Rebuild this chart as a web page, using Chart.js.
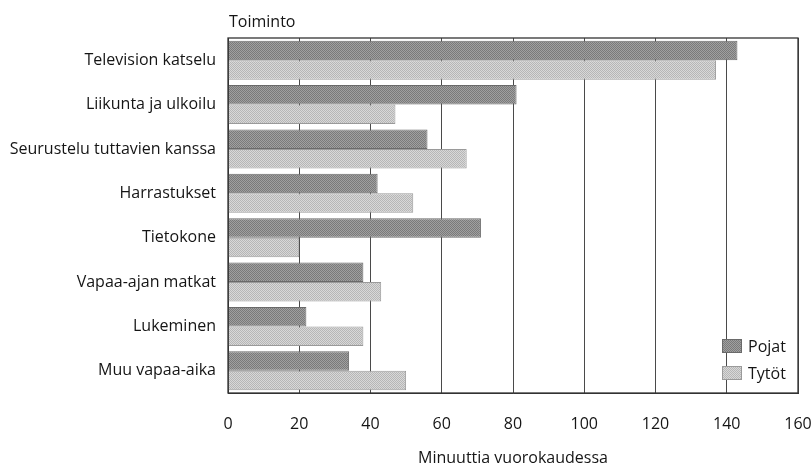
<!DOCTYPE html>
<html>
<head>
<meta charset="utf-8">
<script src="https://cdn.jsdelivr.net/npm/chart.js@4"></script>
<style>
  html, body { margin: 0; padding: 0; background: #fff; }
  #wrap { width: 812px; height: 466px; }
</style>
</head>
<body>
<div id="wrap"><canvas id="chart" width="812" height="466"></canvas></div>
<script>
const categories = [
  'Television katselu',
  'Liikunta ja ulkoilu',
  'Seurustelu tuttavien kanssa',
  'Harrastukset',
  'Tietokone',
  'Vapaa-ajan matkat',
  'Lukeminen',
  'Muu vapaa-aika'
];
const seriesNames = ['Pojat', 'Tytöt'];
const pojat = [143, 81, 56, 42, 71, 38, 22, 34];
const tytot = [137, 47, 67, 52, 20, 43, 38, 50];
const xMin = 0;
const xMax = 160;
const xStep = 20;
const axisTitle = 'Minuuttia vuorokaudessa';
const groupTitle = 'Toiminto';

const FONT = '"Open Sans", "DejaVu Sans", sans-serif';
const INK = '#151515';

// small 2x2 checker to mimic the printed halftone
function dither(c1, c2) {
  const p = document.createElement('canvas');
  p.width = 2;
  p.height = 2;
  const g = p.getContext('2d');
  g.fillStyle = c1;
  g.fillRect(0, 0, 2, 2);
  g.fillStyle = c2;
  g.fillRect(0, 0, 1, 1);
  g.fillRect(1, 1, 1, 1);
  return g.createPattern(p, 'repeat');
}

const ctx = document.getElementById('chart').getContext('2d');
const fills = [dither('#a0a0a0', '#7a7a7a'), dither('#d8d8d8', '#b6b6b6')];
const edges = ['#6a6a6a', '#9a9a9a'];

// frame, "Toiminto" heading and the legend inside the plot
const framePlugin = {
  id: 'frame',
  afterDatasetsDraw(chart) {
    const a = chart.chartArea;
    const c = chart.ctx;
    c.save();
    c.strokeStyle = '#333';
    c.lineWidth = 1.3;
    c.strokeRect(a.left, a.top, a.right - a.left, a.bottom - a.top);

    c.fillStyle = INK;
    c.font = '16px ' + FONT;
    c.textAlign = 'left';
    c.textBaseline = 'middle';
    c.fillText(groupTitle, a.left + 1, a.top - 16);

    chart.data.datasets.forEach((ds, i) => {
      const bx = a.right - 76;
      const by = a.bottom - 54 + i * 27;
      c.fillStyle = ds.backgroundColor;
      c.fillRect(bx, by, 20, 14);
      c.strokeStyle = ds.borderColor;
      c.lineWidth = 1;
      c.strokeRect(bx + 0.5, by + 0.5, 19, 13);
      c.fillStyle = INK;
      c.fillText(ds.label, bx + 26, by + 8);
    });
    c.restore();
  }
};

new Chart(ctx, {
  type: 'bar',
  data: {
    labels: categories,
    datasets: [
      {
        label: seriesNames[0],
        data: pojat,
        backgroundColor: fills[0],
        borderColor: edges[0],
        borderWidth: 1,
        barPercentage: 1,
        categoryPercentage: 0.88
      },
      {
        label: seriesNames[1],
        data: tytot,
        backgroundColor: fills[1],
        borderColor: edges[1],
        borderWidth: 1,
        barPercentage: 1,
        categoryPercentage: 0.88
      }
    ]
  },
  options: {
    indexAxis: 'y',
    responsive: false,
    animation: false,
    layout: {
      padding: { top: 38, right: 14, bottom: 0, left: 0 }
    },
    plugins: {
      legend: { display: false },
      tooltip: { enabled: false }
    },
    scales: {
      x: {
        min: xMin,
        max: xMax,
        ticks: {
          stepSize: xStep,
          color: INK,
          font: { family: FONT, size: 16 },
          padding: 22
        },
        grid: {
          color: '#4a4a4a',
          lineWidth: 1,
          drawTicks: false
        },
        border: { color: '#333' },
        title: {
          display: true,
          text: axisTitle,
          color: INK,
          font: { family: FONT, size: 16 },
          padding: { top: 0, bottom: -2 }
        },
        afterFit(scale) {
          scale.height = 73;
          scale.paddingLeft = 0;
          scale.paddingRight = 0;
        }
      },
      y: {
        ticks: {
          color: INK,
          font: { family: FONT, size: 16 },
          padding: 12
        },
        grid: { display: false, drawTicks: false },
        border: { color: '#333' },
        afterFit(scale) {
          scale.width = 228;
          scale.paddingTop = 0;
          scale.paddingBottom = 0;
        }
      }
    }
  },
  plugins: [framePlugin]
});
</script>
</body>
</html>
